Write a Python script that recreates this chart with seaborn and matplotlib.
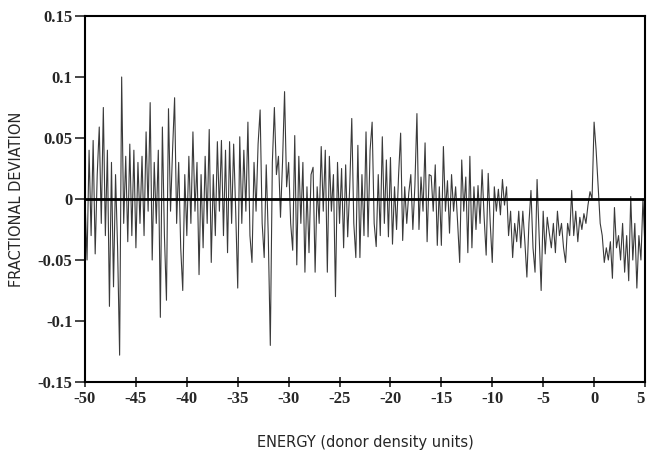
import numpy as np
import pandas as pd
import matplotlib
matplotlib.use("Agg")
import matplotlib.pyplot as plt
import seaborn as sns

# Values (energy grid step 0.2 from -50 to 5)
x_start = -50.0
x_end = 5.0
deviation = [
    0.0, -0.05, 0.04, -0.03, 0.048,
    -0.045, 0.02, 0.059, -0.02, 0.075,
    -0.03, 0.04, -0.088, 0.03, -0.072,
    0.02, -0.04, -0.128, 0.1, -0.02,
    0.035, -0.035, 0.045, -0.03, 0.04,
    -0.04, 0.03, -0.02, 0.035, -0.03,
    0.055, -0.01, 0.079, -0.05, 0.03,
    -0.02, 0.04, -0.097, 0.059, -0.03,
    -0.083, 0.074, -0.01, 0.04, 0.083,
    -0.02, 0.03, -0.04, -0.075, 0.02,
    -0.03, 0.035, -0.02, 0.055, -0.01,
    0.03, -0.062, 0.02, -0.04, 0.035,
    -0.02, 0.057, -0.052, 0.02, -0.03,
    0.047, -0.01, 0.048, -0.03, 0.04,
    -0.044, 0.047, -0.02, 0.045, -0.01,
    -0.073, 0.051, -0.02, 0.04, -0.01,
    0.063, -0.03, -0.052, 0.03, -0.01,
    0.045, 0.073, -0.02, -0.048, 0.028,
    -0.03, -0.12, 0.03, 0.075, 0.02,
    0.035, -0.015, 0.03, 0.088, 0.01,
    0.03, -0.02, -0.042, 0.052, -0.054,
    0.035, -0.02, 0.03, -0.06, 0.01,
    -0.044, 0.02, 0.026, -0.06, 0.01,
    -0.02, 0.043, -0.01, 0.04, -0.06,
    0.035, -0.01, 0.02, -0.08, 0.03,
    -0.02, 0.025, -0.04, 0.028, -0.031,
    0.01, 0.066, -0.02, -0.048, 0.044,
    -0.048, 0.02, -0.03, 0.055, -0.031,
    0.04, 0.063, -0.02, -0.039, 0.02,
    -0.03, 0.051, -0.02, 0.032, -0.031,
    0.034, -0.037, 0.01, -0.025, 0.02,
    0.054, -0.034, 0.01, -0.02, 0.005,
    0.02, -0.025, 0.011, 0.07, -0.025,
    0.018, -0.01, 0.046, -0.035, 0.02,
    0.019, -0.01, 0.028, -0.038, 0.01,
    -0.038, 0.043, -0.01, 0.015, -0.028,
    0.02, -0.01, 0.01, -0.02, -0.052,
    0.032, -0.01, 0.018, -0.044, 0.035,
    -0.04, 0.01, -0.025, 0.011, -0.02,
    0.024, -0.015, -0.046, 0.021, -0.02,
    -0.052, 0.01, -0.01, 0.008, -0.013,
    0.016, -0.005, 0.01, -0.03, -0.01,
    -0.048, -0.02, -0.035, -0.01, -0.04,
    -0.01, -0.035, -0.064, -0.02, 0.007,
    -0.04, -0.06, 0.016, -0.03, -0.075,
    -0.01, -0.045, -0.015, -0.028, -0.04,
    -0.02, -0.044, -0.01, -0.03, -0.02,
    -0.04, -0.052, -0.02, -0.03, 0.007,
    -0.03, -0.01, -0.035, -0.015, -0.025,
    -0.012, -0.02, -0.005, 0.006, 0.0,
    0.063, 0.04, 0.01, -0.02, -0.03,
    -0.052, -0.04, -0.05, -0.035, -0.065,
    -0.007, -0.04, -0.03, -0.05, -0.02,
    -0.06, -0.03, -0.067, 0.002, -0.05,
    -0.02, -0.073, -0.03, -0.05, 0.0,
    -0.04,
]
energy = np.linspace(x_start, x_end, len(deviation))

x_ticks = [-50, -45, -40, -35, -30, -25, -20, -15, -10, -5, 0, 5]
x_tick_labels = ["-50", "-45", "-40", "-35", "-30", "-25", "-20", "-15", "-10", "-5", "0", "5"]
y_ticks = [-0.15, -0.1, -0.05, 0, 0.05, 0.1, 0.15]
y_tick_labels = ["-0.15", "-0.1", "-0.05", "0", "0.05", "0.1", "0.15"]

df = pd.DataFrame({"energy": energy, "deviation": deviation})

sns.set_style("ticks")
plt.rcParams["font.family"] = ["DejaVu Sans"]

fig = plt.figure(figsize=(6.47, 4.54), dpi=100)
ax = fig.add_axes([85 / 647, 1 - 382 / 454, 560 / 647, 366 / 454])

sns.lineplot(data=df, x="energy", y="deviation", ax=ax, color="#3a3a3a",
             linewidth=0.8, estimator=None, sort=False)
ax.axhline(0, color="black", linewidth=2.0, zorder=3)

ax.set_xlim(-50, 5)
ax.set_ylim(-0.15, 0.15)
ax.set_xticks(x_ticks)
ax.set_xticklabels(x_tick_labels, fontfamily="Liberation Serif", fontweight="bold", fontsize=12)
ax.set_yticks(y_ticks)
ax.set_yticklabels(y_tick_labels, fontfamily="Liberation Serif", fontweight="bold", fontsize=12)
ax.get_xticklabels()[-1].set_horizontalalignment("right")
ax.tick_params(axis="y", direction="out", length=7, width=1.2, pad=2)
ax.tick_params(axis="x", direction="inout", length=7, width=1.2, pad=3)

for sp in ax.spines.values():
    sp.set_visible(True)
    sp.set_linewidth(1.5)
    sp.set_color("black")

ax.set_xlabel("ENERGY (donor density units)", fontsize=10.5, labelpad=20)
ax.set_ylabel("FRACTIONAL DEVIATION", fontsize=10.5, labelpad=10)

fig.savefig("out.png", dpi=100)
